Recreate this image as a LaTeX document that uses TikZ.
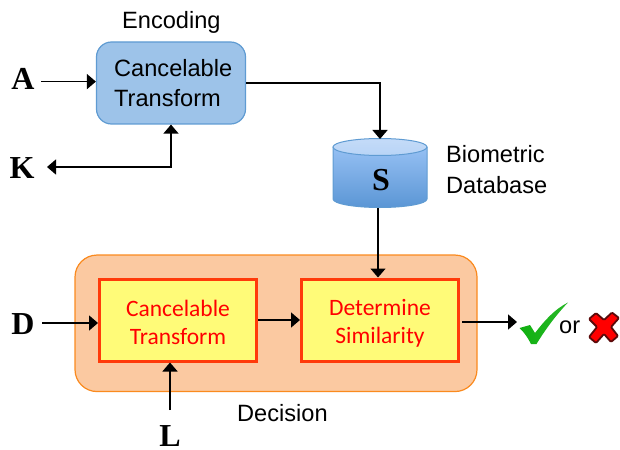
\documentclass[tikz,border=0pt]{standalone}
\usepackage{fontspec}
\setmainfont{Liberation Sans}
\newfontfamily\calfont{Carlito}
\newfontfamily\timesbold{Liberation Serif Bold}
\usetikzlibrary{arrows.meta,shadows}
\definecolor{bluefill}{HTML}{9DC3E9}
\definecolor{bluedraw}{HTML}{5F9BD2}
\definecolor{dbtopc}{HTML}{96C0F3}
\definecolor{dbbotc}{HTML}{5B96D5}
\definecolor{lidtop}{HTML}{C4DBF8}
\definecolor{lidbot}{HTML}{B8D4F6}
\definecolor{orfill}{HTML}{FBC9A1}
\definecolor{ordraw}{HTML}{FA8A1E}
\definecolor{yelfill}{HTML}{FFFB78}
\definecolor{reddraw}{HTML}{FF3A0A}
\definecolor{crossedge}{HTML}{5A0A0A}
\definecolor{checkc}{HTML}{10B010}
\newcommand{\txtline}[2]{\raisebox{#1}[0pt][0pt]{#2}}
\tikzset{
  arr/.style={line width=1.5pt,-{Triangle[length=9pt,width=15pt]},black},
  arrb/.style={line width=1.5pt,{Triangle[length=9pt,width=15pt]}-{Triangle[length=9pt,width=15pt]},black},
  plainlab/.style={inner sep=0pt,font=\fontsize{23.6pt}{30pt}\selectfont,align=left},
  letter/.style={inner sep=0pt,minimum width=36pt,font=\timesbold\fontsize{32pt}{32pt}\selectfont},
  bluebox/.style={draw=bluedraw,fill=bluefill,line width=1.2pt,rounded corners=15pt,inner sep=0pt,
    minimum width=149pt,minimum height=82pt,align=left,font=\fontsize{23.6pt}{30pt}\selectfont},
  yelbox/.style={draw=reddraw,fill=yelfill,line width=3pt,inner sep=0pt,
    minimum width=157pt,minimum height=82pt,align=center,text=red,
    font=\calfont\fontsize{23.5pt}{28pt}\selectfont,
    drop shadow={shadow xshift=1pt,shadow yshift=-2pt,opacity=.35}},
}
\begin{document}
\begin{tikzpicture}[x=1pt,y=-1pt]
\useasboundingbox (0,0) rectangle (620,449);
% group box
\node[draw=ordraw,fill=orfill,line width=1.2pt,rounded corners=22pt,minimum width=402pt,minimum height=136.5pt,inner sep=0pt] (group) at (276,323.3) {};
% blue box
\node[bluebox] (enc) at (171,83) {\txtline{-9pt}{\hspace{5pt}Cancelable}\\\txtline{-9pt}{\hspace{5pt}Transform\hspace{12pt}}};
% database
\shade[top color=dbtopc,bottom color=dbbotc,draw=none] (333,147) -- (333,199) arc[start angle=180,end angle=0,x radius=47,y radius=8.5] -- (427,147) -- cycle;
\draw[bluedraw,line width=1pt] (333,147) -- (333,199) arc[start angle=180,end angle=0,x radius=47,y radius=8.5] -- (427,147);
\shade[top color=lidtop,bottom color=lidbot] (380,147) ellipse[x radius=47,y radius=8.5];
\draw[bluedraw,line width=1pt] (380,147) ellipse[x radius=47,y radius=8.5];
\node[inner sep=0pt,minimum width=94pt,minimum height=69pt,font=\timesbold\fontsize{32pt}{32pt}\selectfont] (db) at (381,173.5) {\txtline{-17pt}{S}};
% yellow boxes
\node[yelbox] (ct) at (178,320) {\txtline{-10pt}{Cancelable}\\\txtline{-10pt}{Transform}};
\node[yelbox] (ds) at (380,320) {\txtline{-9.5pt}{Determine}\\\txtline{-9.5pt}{Similarity}};
% labels
\node[plainlab,anchor=base west] (lenc) at (122,29) {Encoding};
\node[plainlab,anchor=base west] (lbio) at (446,193) {Biometric\\Database};
\node[plainlab,anchor=base west] (ldec) at (237,421) {Decision};
\node[plainlab,anchor=base west] (lor) at (559,333) {or};
% letters
\node[letter] (A) at (23,78.5) {A};
\node[letter] (K) at (22,168) {K};
\node[letter] (D) at (23,324) {D};
\node[letter] (L) at (170,436) {L};
% check
\shade[left color=checkc,right color=checkc!90!white,draw=none]
  (519.5,328) -- (530,325) -- (535,333) .. controls (545,320) and (555,309) .. (568,302.5) .. controls (556,315) and (545,330) .. (536.5,344) -- (531,344) .. controls (528,338) and (524,332) .. (519.5,328) -- cycle;
% cross
\draw[draw=crossedge,fill=red,line width=1.8pt,line join=round,rounded corners=1pt]
  (589,319) -- (596,313) -- (604,320) -- (612,312.5) -- (619,318) -- (611,327) -- (618,336) -- (611,342) -- (604,334) -- (596,343) -- (589,337) -- (597,327) -- cycle;
% connector ends
\coordinate (Aout) at (41,81.6);
\coordinate (Kout) at (47,167);
\coordinate (Dout) at (42,323);
\coordinate (Ltop) at (170,410);
\coordinate (Send) at (517,322);
\coordinate (Sx) at (378,208);
\coordinate (Ostart) at (462,322);
% connectors
\draw[arr] (Aout) -- (Aout -| enc.west);
\draw[arrb] (Kout) -- (enc.south |- Kout) -- (enc.south);
\draw[arr] (enc.east) -| (380,139);
\draw[arr] (Sx |- db.south) -- (Sx |- ds.north);
\draw[arr] (Dout) -- (Dout -| ct.west);
\draw[arr] (ct.east) -- (ds.west);
\draw[arr] (Ostart) -- (Send);
\draw[arr] (Ltop) -- (Ltop |- ct.south);
\end{tikzpicture}
\end{document}
